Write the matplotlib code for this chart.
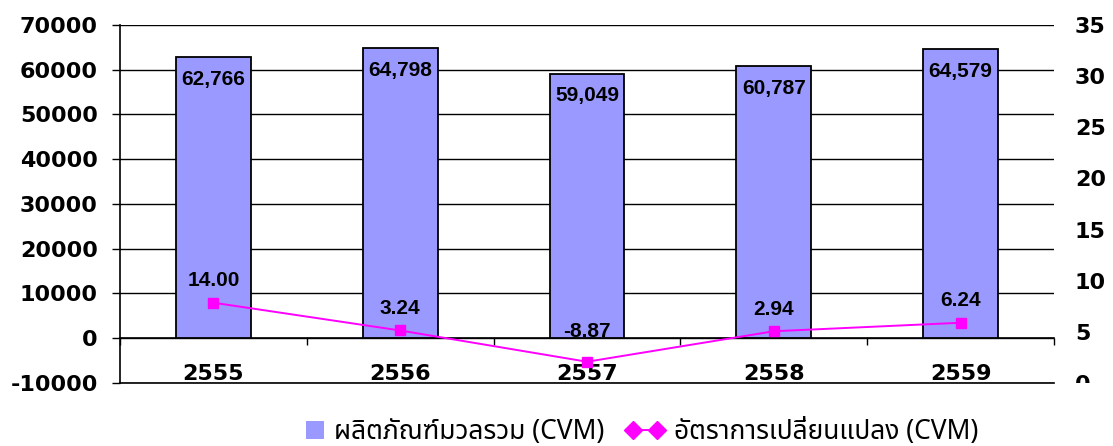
import matplotlib
matplotlib.use("Agg")
import matplotlib.pyplot as plt
from matplotlib import font_manager as fm
from matplotlib.ft2font import FT2Font
from matplotlib.lines import Line2D
from matplotlib.patches import Patch, Rectangle
from matplotlib.legend_handler import HandlerPatch
from matplotlib.transforms import Bbox, TransformedBbox, blended_transform_factory

# ---------------- data ----------------
years = ["2555", "2556", "2557", "2558", "2559"]
gdp_values = [62766, 64798, 59049, 60787, 64579]
growth_rates = [14.00, 3.24, -8.87, 2.94, 6.24]
bar_label_texts = ["62,766", "64,798", "59,049", "60,787", "64,579"]
growth_label_texts = ["14.00", "3.24", "-8.87", "2.94", "6.24"]
left_ticks = [-10000, 0, 10000, 20000, 30000, 40000, 50000, 60000, 70000]
right_ticks = [0, 5, 10, 15, 20, 25, 30, 35]
legend_bar = "ผลิตภัณฑ์มวลรวม (CVM)"
legend_line = "อัตราการเปลี่ยนแปลง (CVM)"

# ---------------- Thai font lookup ----------------
def find_thai_font():
    preferred = ["Tahoma", "Noto Sans Thai", "Noto Sans Thai UI", "Loma", "Garuda",
                 "Sawasdee", "Norasi", "Kinnari", "Waree", "Umpush", "Laksaman"]
    found = {}
    for f in fm.fontManager.ttflist:
        try:
            cm = FT2Font(f.fname).get_charmap()
        except Exception:
            continue
        if ord("ผ") in cm and ord("ั") in cm:
            found.setdefault(f.name, f.fname)
    for p in preferred:
        if p in found:
            return p
    if found:
        return sorted(found)[0]
    return "DejaVu Sans"

thai_font = find_thai_font()
num_font = "Liberation Sans"
axis_font = "DejaVu Sans"

# ---------------- figure ----------------
fig = plt.figure(figsize=(11.13, 4.46), dpi=100)
ax = fig.add_axes([0.1078, 0.1413, 0.8392, 0.8027])

x = list(range(len(years)))
ax.bar(x, gdp_values, width=0.4, color="#9999FF", edgecolor="black", linewidth=1.3, zorder=3)
ax.set_ylim(-10000, 70000)
ax.set_xlim(-0.5, len(years) - 0.5)
ax.set_yticks(left_ticks)
ax.set_yticklabels([str(t) for t in left_ticks], fontfamily=axis_font, fontweight="bold", fontsize=16)
ax.yaxis.grid(True, color="black", linewidth=1.0, zorder=0)
ax.set_axisbelow(True)
ax.tick_params(axis="y", length=6, width=1, pad=10, colors="black")
# bottom frame line (the -10000 grid line)
ax.axhline(left_ticks[0], color="black", linewidth=1.2, clip_on=False, zorder=1)

# x axis at zero with boundary ticks
ax.spines["bottom"].set_position(("data", 0))
ax.spines["bottom"].set_linewidth(1.2)
ax.spines["top"].set_visible(False)
ax.spines["right"].set_visible(False)
ax.spines["left"].set_linewidth(1.2)
ax.set_xticks([i - 0.5 for i in range(len(years) + 1)])
ax.set_xticklabels([])
ax.tick_params(axis="x", direction="out", length=5, width=1)

tr = blended_transform_factory(ax.transData, ax.transAxes)
for i, yr in enumerate(years):
    ax.text(i, 0.024, yr, transform=tr, ha="center", va="center",
            fontfamily=axis_font, fontweight="bold", fontsize=16)

for i, (v, t) in enumerate(zip(gdp_values, bar_label_texts)):
    ax.annotate(t, (i, v), xytext=(0, -22), textcoords="offset pixels",
                ha="center", va="center", fontfamily=num_font, fontweight="bold",
                fontsize=15, zorder=5)

# visible right axis (0-35)
ax2 = ax.twinx()
ax2.set_ylim(0, 35)
ax2.set_yticks(right_ticks)
ax2.set_yticklabels([str(t) for t in right_ticks], fontfamily=axis_font, fontweight="bold", fontsize=16)
ax2.tick_params(axis="y", length=0, pad=15)
for s in ax2.spines.values():
    s.set_visible(False)

# hidden axis for growth line (zero aligned with bar zero)
ax3 = ax.twinx()
ax3.set_ylim(-17.1, 121.6)
ax3.axis("off")
ax3.plot(x, growth_rates, color="#FF00FF", linewidth=1.4, marker="s", markersize=7.5,
         markerfacecolor="#FF00FF", markeredgecolor="#FF00FF", zorder=6)
for i, (v, t) in enumerate(zip(growth_rates, growth_label_texts)):
    off = 30 if v < 0 else 22
    ax3.annotate(t, (i, v), xytext=(0, off), textcoords="offset pixels",
                 ha="center", va="center", fontfamily=num_font, fontweight="bold",
                 fontsize=15, zorder=7)

# clip the right "0" label at the plot bottom, as in the reference
fig.canvas.draw()
clipbb = TransformedBbox(Bbox([[0, 0.1413], [1, 1]]), fig.transFigure)
for tk in ax2.yaxis.get_major_ticks():
    if abs(tk.get_loc()) < 1e-9:
        tk.label2.set_clip_box(clipbb)
        tk.label2.set_clip_on(True)

# legend
def right_square(legend, orig_handle, xdescent, ydescent, width, height, fontsize):
    s = height
    return Rectangle((-xdescent + width - s, -ydescent + (height - s) / 2), s, s)

bar_handle = Patch(facecolor="#9999FF", edgecolor="none")
line_handle = Line2D([0], [0], color="#FF00FF", linewidth=1.4, marker="D", markersize=9,
                     markerfacecolor="#FF00FF", markeredgecolor="#FF00FF")
fig.legend([bar_handle, line_handle], [legend_bar, legend_line], loc="center",
           bbox_to_anchor=(0.5674, 0.031), ncol=2, frameon=False, numpoints=2,
           handler_map={Patch: HandlerPatch(patch_func=right_square)},
           handlelength=1.5, handleheight=0.7, handletextpad=0.35, columnspacing=0.8,
           prop={"family": [thai_font, "DejaVu Sans"], "size": 19})

fig.savefig("out.png", dpi=100)
